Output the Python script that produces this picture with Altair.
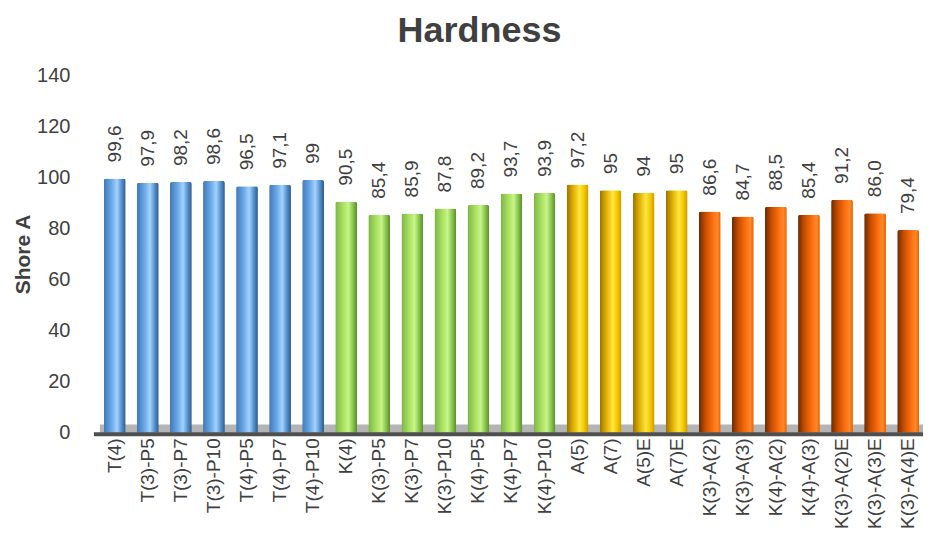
import altair as alt
import pandas as pd

categories = ["T(4)", "T(3)-P5", "T(3)-P7", "T(3)-P10", "T(4)-P5", "T(4)-P7", "T(4)-P10",
              "K(4)", "K(3)-P5", "K(3)-P7", "K(3)-P10", "K(4)-P5", "K(4)-P7", "K(4)-P10",
              "A(5)", "A(7)", "A(5)E", "A(7)E",
              "K(3)-A(2)", "K(3)-A(3)", "K(4)-A(2)", "K(4)-A(3)", "K(3)-A(2)E", "K(3)-A(3)E", "K(3)-A(4)E"]
values = [99.6, 97.9, 98.2, 98.6, 96.5, 97.1, 99,
          90.5, 85.4, 85.9, 87.8, 89.2, 93.7, 93.9,
          97.2, 95, 94, 95,
          86.6, 84.7, 88.5, 85.4, 91.2, 86.0, 79.4]
value_labels = ["99,6", "97,9", "98,2", "98,6", "96,5", "97,1", "99",
                "90,5", "85,4", "85,9", "87,8", "89,2", "93,7", "93,9",
                "97,2", "95", "94", "95",
                "86,6", "84,7", "88,5", "85,4", "91,2", "86,0", "79,4"]
groups = ["T"] * 7 + ["K"] * 7 + ["A"] * 4 + ["KA"] * 7

df = pd.DataFrame({"cat": categories, "val": values, "lab": value_labels, "grp": groups})

FONT = "Liberation Sans"
TXT = "#404040"
W = 824
H = 358

gradients = {
    "T": [("#3f78b8", 0.0), ("#6aa8e6", 0.35), ("#a3d3ff", 0.6), ("#5a94d0", 0.8), ("#2c5a8a", 1.0)],
    "K": [("#7cb446", 0.0), ("#a8e060", 0.35), ("#c8f58a", 0.6), ("#8cc850", 0.8), ("#5b8a2c", 1.0)],
    "A": [("#9a7000", 0.0), ("#e0b000", 0.3), ("#ffe640", 0.6), ("#f5c800", 0.8), ("#c89a00", 1.0)],
    "KA": [("#6a2a00", 0.0), ("#c84e00", 0.3), ("#ff7010", 0.65), ("#ff8a2a", 0.85), ("#e06000", 1.0)],
}

x_enc = alt.X("cat:N", sort=categories, scale=alt.Scale(paddingInner=0.34, paddingOuter=0.12),
              axis=alt.Axis(title=None, labelAngle=-90, labelFontSize=19, labelFont=FONT,
                            labelColor=TXT, labelPadding=5, ticks=False, domain=False))
y_scale = alt.Scale(domain=[0, 140], nice=False)
y_enc = alt.Y("val:Q", scale=y_scale,
              axis=alt.Axis(title="Shore A", titleFont=FONT, titleFontSize=21, titleFontWeight="bold",
                            titleColor=TXT, titlePadding=3, values=list(range(0, 141, 20)),
                            labelFont=FONT, labelFontSize=20, labelColor=TXT, labelPadding=30,
                            grid=False, ticks=False, domain=False))

base = alt.Chart(df)

floor = alt.Chart(pd.DataFrame({"a": [0]})).mark_rect(color="#b4b4b4").encode(
    x=alt.value(0), x2=alt.value(W), y=alt.datum(0, scale=y_scale), y2=alt.datum(3.3))
floor_line = alt.Chart(pd.DataFrame({"a": [0]})).mark_rule(color="#4f4f4f", strokeWidth=4).encode(
    x=alt.value(-6), x2=alt.value(W), y=alt.datum(-0.6, scale=y_scale))

bar_layers = []
for g, stops in gradients.items():
    grad = alt.Gradient(gradient="linear", x1=0, x2=1, y1=0, y2=0,
                        stops=[alt.GradientStop(color=c, offset=o) for c, o in stops])
    bar_layers.append(
        base.transform_filter(alt.datum.grp == g).mark_bar(fill=grad, cornerRadiusTopLeft=2,
                                                           cornerRadiusTopRight=2).encode(x=x_enc, y=y_enc)
    )

labels = base.mark_text(angle=270, align="left", baseline="middle", dx=16, fontSize=19,
                        font=FONT, color=TXT).encode(x=x_enc, y=y_enc, text="lab:N")

chart = alt.layer(floor, *bar_layers, floor_line, labels).properties(
    width=W, height=H,
    padding={"left": 4, "top": 5, "right": 0, "bottom": 0},
    title=alt.TitleParams("Hardness", font=FONT, fontSize=36, fontWeight="bold", color=TXT,
                          anchor="middle", dx=-32, offset=15),
).configure_view(stroke=None)

chart.save("out.html", embed_options={"renderer": "svg", "actions": False})
